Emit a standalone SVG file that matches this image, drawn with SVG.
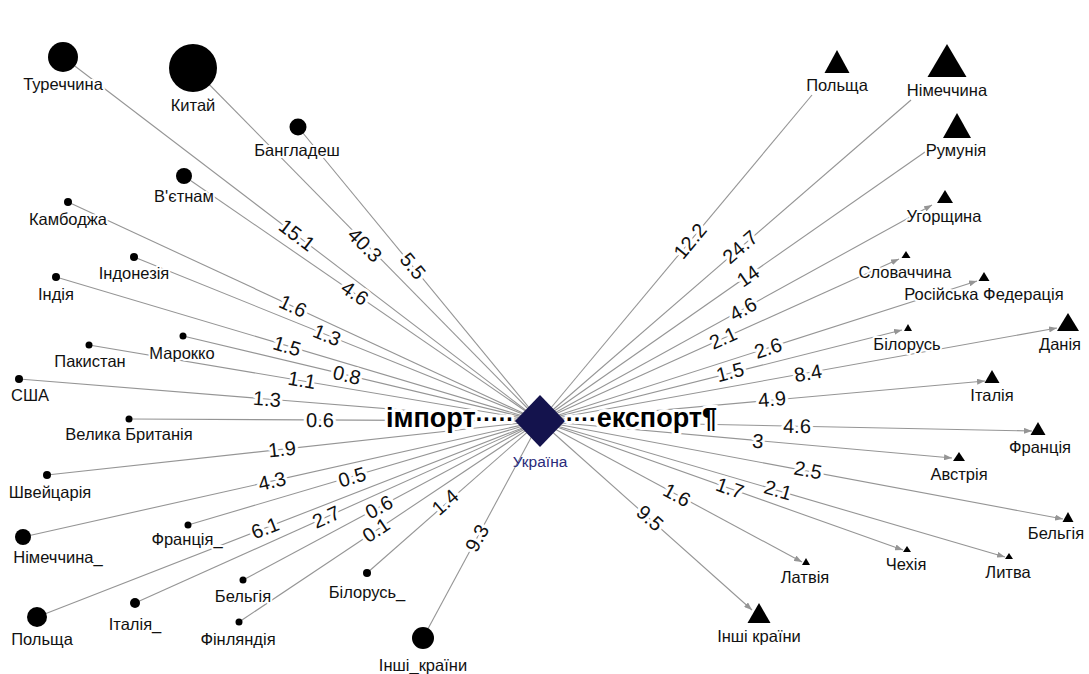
<svg xmlns="http://www.w3.org/2000/svg" width="1089" height="674" viewBox="0 0 1089 674">
<style>
.e{stroke:#959595;stroke-width:1.1;fill:none}
.ea{marker-end:url(#arr)}
.el{font-family:"Liberation Sans",Arial,sans-serif;font-size:20px;fill:#111;text-anchor:middle;dominant-baseline:central;stroke:#fff;stroke-width:6;stroke-linejoin:round;paint-order:stroke}
.nl{font-family:"Liberation Sans",Arial,sans-serif;font-size:16.5px;fill:#111;text-anchor:middle;stroke:#fff;stroke-width:4;stroke-linejoin:round;paint-order:stroke}
.n{fill:#000}
.big{font-family:"Liberation Sans",Arial,sans-serif;font-size:27px;font-weight:bold;fill:#000;stroke:#fff;stroke-width:6;stroke-linejoin:round;paint-order:stroke}
.dots{font-size:23px}
</style>
<defs>
<marker id="arr" viewBox="0 0 8 6" refX="8" refY="3" markerWidth="8" markerHeight="6" markerUnits="userSpaceOnUse" orient="auto">
<path d="M0,0 L8,3 L0,6 z" fill="#959595"/>
</marker>
</defs>
<rect width="1089" height="674" fill="#fff"/>
<g id="connectors">
<line class="e" x1="63" y1="57" x2="540" y2="421"/>
<line class="e" x1="193" y1="68" x2="540" y2="421"/>
<line class="e" x1="298" y1="127" x2="540" y2="421"/>
<line class="e" x1="184" y1="176" x2="540" y2="421"/>
<line class="e" x1="68" y1="202" x2="540" y2="421"/>
<line class="e" x1="134" y1="257" x2="540" y2="421"/>
<line class="e" x1="56" y1="277" x2="540" y2="421"/>
<line class="e" x1="89" y1="345" x2="540" y2="421"/>
<line class="e" x1="183" y1="336" x2="540" y2="421"/>
<line class="e" x1="19" y1="379" x2="540" y2="421"/>
<line class="e" x1="129" y1="419" x2="540" y2="421"/>
<line class="e" x1="47" y1="475" x2="540" y2="421"/>
<line class="e" x1="23" y1="537" x2="540" y2="421"/>
<line class="e" x1="188" y1="525" x2="540" y2="421"/>
<line class="e" x1="37" y1="617" x2="540" y2="421"/>
<line class="e" x1="135" y1="603" x2="540" y2="421"/>
<line class="e" x1="243" y1="580" x2="540" y2="421"/>
<line class="e" x1="239" y1="622" x2="540" y2="421"/>
<line class="e" x1="367" y1="573" x2="540" y2="421"/>
<line class="e" x1="423" y1="638" x2="540" y2="421"/>
<line class="e" x1="540" y1="421" x2="812" y2="95"/>
<line class="e" x1="540" y1="421" x2="911" y2="100"/>
<line class="e" x1="540" y1="421" x2="925" y2="152"/>
<line class="e ea" x1="540" y1="421" x2="932" y2="205"/>
<line class="e ea" x1="540" y1="421" x2="899" y2="259"/>
<line class="e ea" x1="540" y1="421" x2="977" y2="281"/>
<line class="e ea" x1="540" y1="421" x2="902" y2="330"/>
<line class="e ea" x1="540" y1="421" x2="1057" y2="328"/>
<line class="e ea" x1="540" y1="421" x2="985" y2="381"/>
<line class="e ea" x1="540" y1="421" x2="1032" y2="431"/>
<line class="e ea" x1="540" y1="421" x2="952" y2="458"/>
<line class="e ea" x1="540" y1="421" x2="1063" y2="519"/>
<line class="e ea" x1="540" y1="421" x2="903" y2="550"/>
<line class="e ea" x1="540" y1="421" x2="1005" y2="557"/>
<line class="e ea" x1="540" y1="421" x2="802" y2="562"/>
<line class="e ea" x1="540" y1="421" x2="752" y2="610"/>
</g>
<g id="edge-labels">
<text class="el" transform="translate(297,235) rotate(37.3)">15.1</text>
<text class="el" transform="translate(365,245) rotate(45.5)">40.3</text>
<text class="el" transform="translate(413,266) rotate(50.5)">5.5</text>
<text class="el" transform="translate(355,293) rotate(34.5)">4.6</text>
<text class="el" transform="translate(293,306) rotate(24.9)">1.6</text>
<text class="el" transform="translate(327,335) rotate(22)">1.3</text>
<text class="el" transform="translate(287,346) rotate(16.6)">1.5</text>
<text class="el" transform="translate(347,375) rotate(13.4)">0.8</text>
<text class="el" transform="translate(302,380) rotate(9.6)">1.1</text>
<text class="el" transform="translate(267,399) rotate(4.6)">1.3</text>
<text class="el" transform="translate(320,420) rotate(0.3)">0.6</text>
<text class="el" transform="translate(282,449) rotate(-6.2)">1.9</text>
<text class="el" transform="translate(272,481) rotate(-12.7)">4.3</text>
<text class="el" transform="translate(352,477) rotate(-16.5)">0.5</text>
<text class="el" transform="translate(265,528) rotate(-21.3)">6.1</text>
<text class="el" transform="translate(326,517) rotate(-24.2)">2.7</text>
<text class="el" transform="translate(379,507) rotate(-28.2)">0.6</text>
<text class="el" transform="translate(376,530) rotate(-33.7)">0.1</text>
<text class="el" transform="translate(445,502) rotate(-41.3)">1.4</text>
<text class="el" transform="translate(477,538) rotate(-61.7)">9.3</text>
<text class="el" transform="translate(690,241) rotate(-50.4)">12.2</text>
<text class="el" transform="translate(740,247) rotate(-41.2)">24.7</text>
<text class="el" transform="translate(748,276) rotate(-34.9)">14</text>
<text class="el" transform="translate(743,309) rotate(-28.9)">4.6</text>
<text class="el" transform="translate(723,338) rotate(-24.2)">2.1</text>
<text class="el" transform="translate(768,348) rotate(-17.8)">2.6</text>
<text class="el" transform="translate(730,372) rotate(-14.1)">1.5</text>
<text class="el" transform="translate(808,373) rotate(-10.2)">8.4</text>
<text class="el" transform="translate(772,399) rotate(-5.1)">4.9</text>
<text class="el" transform="translate(797,426) rotate(1.2)">4.6</text>
<text class="el" transform="translate(758,441) rotate(5.1)">3</text>
<text class="el" transform="translate(808,470) rotate(10.6)">2.5</text>
<text class="el" transform="translate(778,490) rotate(16.3)">2.1</text>
<text class="el" transform="translate(730,488) rotate(19.6)">1.7</text>
<text class="el" transform="translate(677,495) rotate(28.3)">1.6</text>
<text class="el" transform="translate(650,518) rotate(41.7)">9.5</text>
</g>
<g id="n-tur"><circle class="n" cx="63" cy="57" r="15"/><text class="nl" x="63" y="90">Туреччина</text></g>
<g id="n-kyt"><circle class="n" cx="193" cy="68" r="24"/><text class="nl" x="193" y="111">Китай</text></g>
<g id="n-ban"><circle class="n" cx="298" cy="127" r="8.5"/><text class="nl" x="297" y="156">Бангладеш</text></g>
<g id="n-vie"><circle class="n" cx="184" cy="176" r="8"/><text class="nl" x="184" y="202">В'єтнам</text></g>
<g id="n-kam"><circle class="n" cx="68" cy="202" r="4"/><text class="nl" x="68" y="225">Камбоджа</text></g>
<g id="n-ind"><circle class="n" cx="134" cy="257" r="4"/><text class="nl" x="134" y="279">Індонезія</text></g>
<g id="n-indi"><circle class="n" cx="56" cy="277" r="4"/><text class="nl" x="56" y="300">Індія</text></g>
<g id="n-pak"><circle class="n" cx="89" cy="345" r="3.5"/><text class="nl" x="90" y="367">Пакистан</text></g>
<g id="n-mar"><circle class="n" cx="183" cy="336" r="3.5"/><text class="nl" x="182" y="359">Марокко</text></g>
<g id="n-usa"><circle class="n" cx="19" cy="379" r="4"/><text class="nl" x="30" y="401">США</text></g>
<g id="n-gb"><circle class="n" cx="129" cy="419" r="3.5"/><text class="nl" x="129" y="440">Велика Британія</text></g>
<g id="n-swi"><circle class="n" cx="47" cy="475" r="4"/><text class="nl" x="50" y="498">Швейцарія</text></g>
<g id="n-ger-i"><circle class="n" cx="23" cy="537" r="8"/><text class="nl" x="58" y="563">Німеччина_</text></g>
<g id="n-fra-i"><circle class="n" cx="188" cy="525" r="3.5"/><text class="nl" x="187" y="545">Франція_</text></g>
<g id="n-pol-i"><circle class="n" cx="37" cy="617" r="10"/><text class="nl" x="42" y="645">Польща</text></g>
<g id="n-ita-i"><circle class="n" cx="135" cy="603" r="5"/><text class="nl" x="135" y="630">Італія_</text></g>
<g id="n-bel-i"><circle class="n" cx="243" cy="580" r="3.5"/><text class="nl" x="243" y="602">Бельгія</text></g>
<g id="n-fin"><circle class="n" cx="239" cy="622" r="3.5"/><text class="nl" x="238" y="645">Фінляндія</text></g>
<g id="n-blr-i"><circle class="n" cx="367" cy="573" r="4"/><text class="nl" x="367" y="598">Білорусь_</text></g>
<g id="n-oth-i"><circle class="n" cx="423" cy="638" r="11"/><text class="nl" x="423" y="671">Інші_країни</text></g>
<g id="n-pol-e"><path class="n" d="M837,50 L849.5,73 L824.5,73 Z"/><text class="nl" x="837" y="91">Польща</text></g>
<g id="n-ger-e"><path class="n" d="M947,44 L966.5,77 L927.5,77 Z"/><text class="nl" x="947" y="96">Німеччина</text></g>
<g id="n-rom"><path class="n" d="M957,113 L971,138 L943,138 Z"/><text class="nl" x="956" y="156">Румунія</text></g>
<g id="n-hun"><path class="n" d="M945,190 L953,203 L937,203 Z"/><text class="nl" x="944" y="222">Угорщина</text></g>
<g id="n-svk"><path class="n" d="M906,251 L910.5,258 L901.5,258 Z"/><text class="nl" x="905" y="278">Словаччина</text></g>
<g id="n-rus"><path class="n" d="M984,272 L989.5,281 L978.5,281 Z"/><text class="nl" x="984" y="300">Російська Федерація</text></g>
<g id="n-blr-e"><path class="n" d="M908,324 L912,331 L904,331 Z"/><text class="nl" x="907" y="350">Білорусь</text></g>
<g id="n-den"><path class="n" d="M1068,313 L1079,331 L1057,331 Z"/><text class="nl" x="1060" y="350">Данія</text></g>
<g id="n-ita-e"><path class="n" d="M992,370 L999.5,383 L984.5,383 Z"/><text class="nl" x="992" y="401">Італія</text></g>
<g id="n-fra-e"><path class="n" d="M1038,422 L1045.5,435 L1030.5,435 Z"/><text class="nl" x="1040" y="453">Франція</text></g>
<g id="n-aut"><path class="n" d="M959,452 L965,461 L953,461 Z"/><text class="nl" x="959" y="480">Австрія</text></g>
<g id="n-bel-e"><path class="n" d="M1068,512 L1073.5,522 L1062.5,522 Z"/><text class="nl" x="1056" y="539">Бельгія</text></g>
<g id="n-cze"><path class="n" d="M907,546 L911,552 L903,552 Z"/><text class="nl" x="906" y="570">Чехія</text></g>
<g id="n-ltu"><path class="n" d="M1009,553 L1013,559 L1005,559 Z"/><text class="nl" x="1008" y="578">Литва</text></g>
<g id="n-lva"><path class="n" d="M806,558 L810,565 L802,565 Z"/><text class="nl" x="805" y="583">Латвія</text></g>
<g id="n-oth-e"><path class="n" d="M759,603 L770.5,623 L747.5,623 Z"/><text class="nl" x="759" y="642">Інші країни</text></g>
<g id="n-ukr">
<path d="M540,395 L565,421 L540,447 L515,421 Z" fill="#14134d"/>
<text x="540" y="467" font-family="Liberation Sans, Arial, sans-serif" font-size="15.5" fill="#2a2a7a" text-anchor="middle">Україна</text>
</g>
<g id="captions">
<text class="big" x="514" y="427" text-anchor="end">імпорт<tspan class="dots">·····</tspan></text>
<text class="big" x="566" y="427"><tspan class="dots">····</tspan>експорт¶</text>
</g>
</svg>
